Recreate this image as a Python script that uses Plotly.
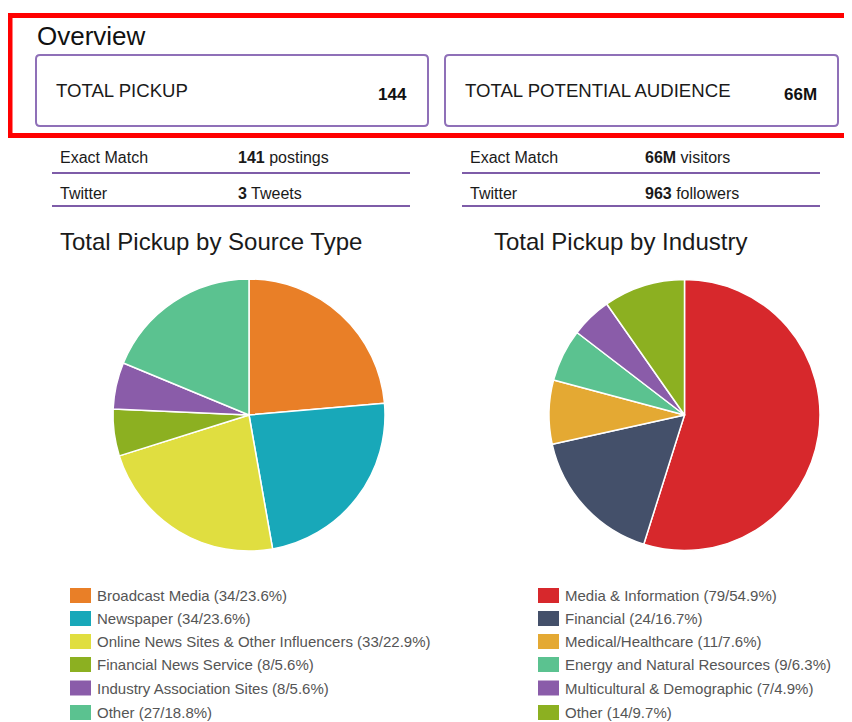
import plotly.graph_objects as go

# ---------------- data ----------------
overview_labels = ["TOTAL PICKUP", "TOTAL POTENTIAL AUDIENCE"]
overview_values = ["144", "66M"]

left_rows = ["Exact Match", "Twitter"]
left_counts = ["141", "3"]
left_units = ["postings", "Tweets"]
right_rows = ["Exact Match", "Twitter"]
right_counts = ["66M", "963"]
right_units = ["visitors", "followers"]

source_types = ["Broadcast Media", "Newspaper", "Online News Sites & Other Influencers",
                "Financial News Service", "Industry Association Sites", "Other"]
source_values = [34, 34, 33, 8, 8, 27]
source_pcts = ["23.6", "23.6", "22.9", "5.6", "5.6", "18.8"]
source_colors = ["#E97F27", "#18A8B9", "#E0DE40", "#8CB021", "#8A5CA9", "#5BC290"]

industries = ["Media & Information", "Financial", "Medical/Healthcare",
              "Energy and Natural Resources", "Multicultural & Demographic", "Other"]
industry_values = [79, 24, 11, 9, 7, 14]
industry_pcts = ["54.9", "16.7", "7.6", "6.3", "4.9", "9.7"]
industry_colors = ["#D7282C", "#44506A", "#E4A933", "#5BC290", "#8A5CA9", "#8CB021"]

titles = ["Total Pickup by Source Type", "Total Pickup by Industry"]

# ---------------- layout helpers ----------------
W, H = 852, 722
OFF = 8  # page body margin: figure starts 8px in from the window corner
FONT = "Liberation Sans, Arial, Helvetica, sans-serif"
PURPLE = "#8F70B8"
LINE_PURPLE = "#7E5CA8"


def rounded_rect(x0, y0, x1, y1, r):
    return (f"M {x0+r},{y0} L {x1-r},{y0} Q {x1},{y0} {x1},{y0+r} "
            f"L {x1},{y1-r} Q {x1},{y1} {x1-r},{y1} L {x0+r},{y1} "
            f"Q {x0},{y1} {x0},{y1-r} L {x0},{y0+r} Q {x0},{y0} {x0+r},{y0} Z")


fig = go.Figure()

pie_boxes = [(113, 385, 279, 551), (549, 820, 279, 551)]
for (x0, x1, y0, y1), labels, vals, cols in zip(
        pie_boxes, [source_types, industries], [source_values, industry_values],
        [source_colors, industry_colors]):
    fig.add_trace(go.Pie(
        labels=labels, values=vals, sort=False, direction="clockwise", rotation=0,
        marker=dict(colors=cols, line=dict(color="white", width=1.5)),
        textinfo="none", hoverinfo="label+value+percent", showlegend=False,
        domain=dict(x=[(x0 - OFF) / W, (x1 - OFF) / W],
                    y=[1 - (y1 - OFF) / H, 1 - (y0 - OFF) / H]),
    ))

shapes = []
annotations = []

# red outer frame
shapes.append(dict(type="rect", xref="x", yref="y", x0=10, y0=15.5, x1=880, y1=135.5,
                   line=dict(color="#FF0000", width=5), fillcolor="rgba(0,0,0,0)"))
annotations.append(dict(x=35, y=36, xref="x", yref="y", text="Overview", showarrow=False,
                        xanchor="left", yanchor="middle",
                        font=dict(family=FONT, size=26, color="#111111")))

# overview boxes
box_x = [(36, 428), (445, 838)]
for (x0, x1), lab, val in zip(box_x, overview_labels, overview_values):
    shapes.append(dict(type="path", xref="x", yref="y", path=rounded_rect(x0, 55, x1, 126, 4),
                       line=dict(color=PURPLE, width=2), fillcolor="white"))
    annotations.append(dict(x=x0 + 18, y=90, xref="x", yref="y", text=lab, showarrow=False,
                            xanchor="left", yanchor="middle",
                            font=dict(family=FONT, size=18.6, color="#1a1a1a")))
    annotations.append(dict(x=x1 - 19, y=94, xref="x", yref="y", text=f"<b>{val}</b>",
                            showarrow=False, xanchor="right", yanchor="middle",
                            font=dict(family=FONT, size=17, color="#111111")))

# detail rows
row_y = [157, 193]
line_y = [173, 206]
for (lx0, lx1, tx, vx), rows, counts, units in [
        ((52, 410, 58, 236), left_rows, left_counts, left_units),
        ((462, 820, 468, 643), right_rows, right_counts, right_units)]:
    for i in range(len(rows)):
        annotations.append(dict(x=tx, y=row_y[i], xref="x", yref="y", text=rows[i],
                                showarrow=False, xanchor="left", yanchor="middle",
                                font=dict(family=FONT, size=16, color="#1a1a1a")))
        annotations.append(dict(x=vx, y=row_y[i], xref="x", yref="y",
                                text=f"<b>{counts[i]}</b> {units[i]}",
                                showarrow=False, xanchor="left", yanchor="middle",
                                font=dict(family=FONT, size=16, color="#1a1a1a")))
        shapes.append(dict(type="line", xref="x", yref="y", x0=lx0, x1=lx1,
                           y0=line_y[i], y1=line_y[i],
                           line=dict(color=LINE_PURPLE, width=2)))

# chart titles
for tx, t in zip([58, 492], titles):
    annotations.append(dict(x=tx, y=241, xref="x", yref="y", text=t, showarrow=False,
                            xanchor="left", yanchor="middle",
                            font=dict(family=FONT, size=24, color="#1a1a1a")))

# legends
leg_y = [595.5, 618.5, 641.5, 664.5, 688, 712.5]
for sx, labels, vals, pcts, cols in [
        (70, source_types, source_values, source_pcts, source_colors),
        (538, industries, industry_values, industry_pcts, industry_colors)]:
    for i in range(len(labels)):
        yy = leg_y[i]
        shapes.append(dict(type="rect", xref="x", yref="y", x0=sx, x1=sx + 21,
                           y0=yy - 7.5, y1=yy + 7.5, line=dict(width=0), fillcolor=cols[i]))
        annotations.append(dict(x=sx + 25, y=yy, xref="x", yref="y",
                                text=f"{labels[i]} ({vals[i]}/{pcts[i]}%)",
                                showarrow=False, xanchor="left", yanchor="middle",
                                font=dict(family=FONT, size=15, color="#555555")))

fig.update_layout(
    width=W, height=H, margin=dict(l=0, r=0, t=0, b=0),
    paper_bgcolor="white", plot_bgcolor="white",
    xaxis=dict(range=[OFF, W + OFF], visible=False, fixedrange=True, domain=[0, 1]),
    yaxis=dict(range=[H + OFF, OFF], visible=False, fixedrange=True, domain=[0, 1]),
    shapes=shapes, annotations=annotations, showlegend=False,
)

fig.write_html("out.html")
